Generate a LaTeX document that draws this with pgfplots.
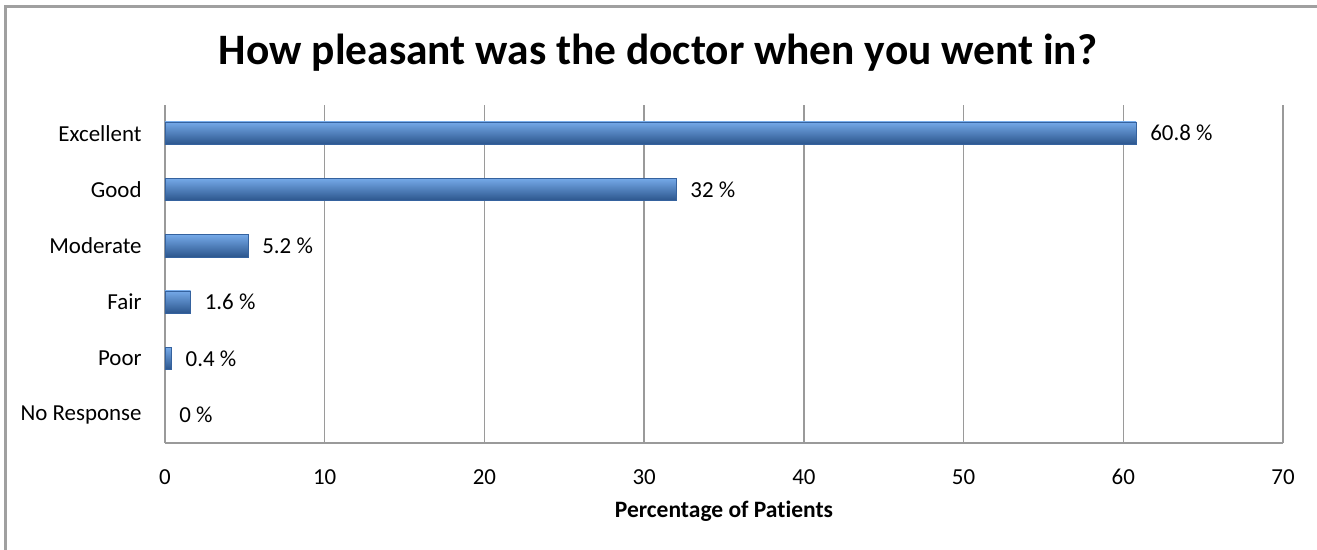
\documentclass[border=0pt]{standalone}
\usepackage{pgfplots}
\pgfplotsset{compat=1.18}
\usepackage{fontspec}
\setmainfont[Ligatures=NoCommon]{Carlito}

\definecolor{bartop}{HTML}{75A9E8}
\definecolor{barmid}{HTML}{4D86CF}
\definecolor{barbot}{HTML}{2B558C}
\definecolor{baredge}{HTML}{35629E}
\definecolor{gridgray}{HTML}{9A9A9A}
\definecolor{framegray}{HTML}{A0A0A0}

\pgfplotsset{
  bevelbar/.style={bar shift=0pt, draw=baredge, line width=0.3bp,
    top color=bartop, middle color=barmid, bottom color=barbot},
}

\begin{document}
\begin{tikzpicture}[x=1bp,y=1bp]
\useasboundingbox (-82.5,-53) rectangle (576,221.5);
% chart area frame
\draw[framegray, line width=1.2bp] (-79.75,-60) -- (-79.75,218.2) -- (600,218.2);

\begin{axis}[
  at={(0,0)}, anchor=south west,
  scale only axis, width=559bp, height=169bp,
  xbar, bar width=11.2bp,
  xmin=0, xmax=70, ymin=-0.5, ymax=5.5, y dir=reverse,
  ytick={0,...,5},
  yticklabels={Excellent,Good,Moderate,Fair,Poor,No Response},
  xtick={0,10,...,70},
  xmajorgrids, grid style={gridgray, line width=0.7bp},
  axis x line*=bottom, axis y line*=left,
  axis line style={-, gridgray, line width=0.7bp},
  major tick length=0pt, tick style={draw=none},
  /pgf/number format/assume math mode=true,
  xticklabel style={font=\fontsize{11.5}{13}\selectfont, inner sep=0pt, yshift=-13bp},
  yticklabel style={font=\fontsize{11.5}{13}\selectfont, inner sep=0pt, xshift=-11.5bp},
  nodes near coords={\pgfmathprintnumber{\pgfplotspointmeta} \%},
  nodes near coords style={font=\fontsize{11.5}{13}\selectfont, anchor=west, inner sep=0pt, xshift=7bp, black},
  clip=false,
]
% one plot per bar so that each bar gets its own bevel shading
\addplot[bevelbar] coordinates {(60.8,0)};
\addplot[bevelbar] coordinates {(32,1)};
\addplot[bevelbar] coordinates {(5.2,2)};
\addplot[bevelbar] coordinates {(1.6,3)};
\addplot[bevelbar] coordinates {(0.4,4)};
\addplot[bevelbar, draw=none] coordinates {(0,5)};
\end{axis}

\node[anchor=base, font=\fontsize{21.8}{26}\selectfont\bfseries] at (246.5,189.5) {How pleasant was the doctor when you went in?};
\node[anchor=base, font=\fontsize{11.8}{14}\selectfont\bfseries] at (279.5,-37) {Percentage of Patients};
\end{tikzpicture}
\end{document}
